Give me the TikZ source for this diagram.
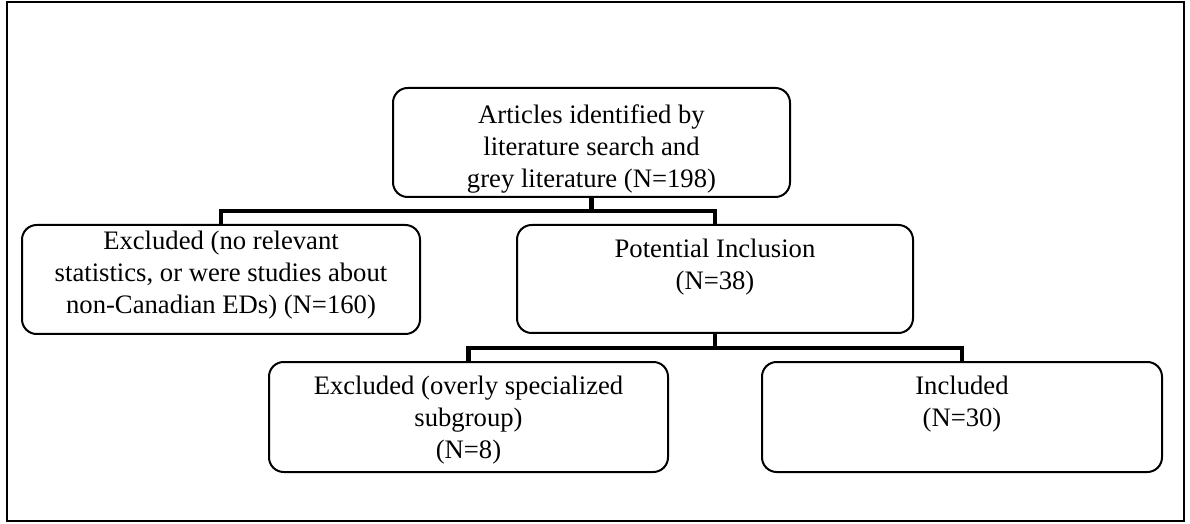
\documentclass[tikz,border=0pt]{standalone}
\usepackage{fontspec}
\setmainfont{Liberation Serif}
\begin{document}
\begin{tikzpicture}[x=0.75pt,y=-0.75pt,
  box/.style={draw,line width=1.5pt,rounded corners=11pt,inner sep=0pt},
  txt/.style={anchor=north,inner sep=0pt,align=center,font=\fontsize{20}{24}\selectfont},
  conn/.style={line width=3.4pt,line join=miter}]
\useasboundingbox (0,0) rectangle (1190,524);
\draw[line width=1.2pt] (7,2) rectangle (1184,521);
% boxes
\node[box,minimum width=397*0.75pt,minimum height=109*0.75pt] (top) at (591.5,142.5) {};
\node[box,minimum width=398*0.75pt,minimum height=109*0.75pt] (left) at (221,279.5) {};
\node[box,minimum width=396*0.75pt,minimum height=108*0.75pt] (mid) at (715,279) {};
\node[box,minimum width=399*0.75pt,minimum height=110*0.75pt] (bl) at (468.5,417) {};
\node[box,minimum width=400*0.75pt,minimum height=110*0.75pt] (br) at (962,417) {};
% texts
\node[txt] (ttop) at (591.5,104) {Articles identified by\\literature search and\\grey literature (N=198)};
\node[txt] (tleft) at (221,231) {Excluded (no relevant\\statistics, or were studies about\\non-Canadian EDs) (N=160)};
\node[txt] (tmid) at (715,239) {Potential Inclusion\\(N=38)};
\node[txt] (tbl) at (468.5,376) {Excluded (overly specialized\\subgroup)\\(N=8)};
\node[txt] (tbr) at (962,376) {Included\\(N=30)};
% connectors
\coordinate (bus1) at (591.5,211);
\coordinate (bus2) at (715,348);
\draw[conn] (top.south) -- (top.south |- bus1);
\draw[conn] (left.north) |- (bus1) -| (mid.north);
\draw[conn] (mid.south) -- (mid.south |- bus2);
\draw[conn] (bl.north) |- (bus2) -| (br.north);
\end{tikzpicture}
\end{document}
